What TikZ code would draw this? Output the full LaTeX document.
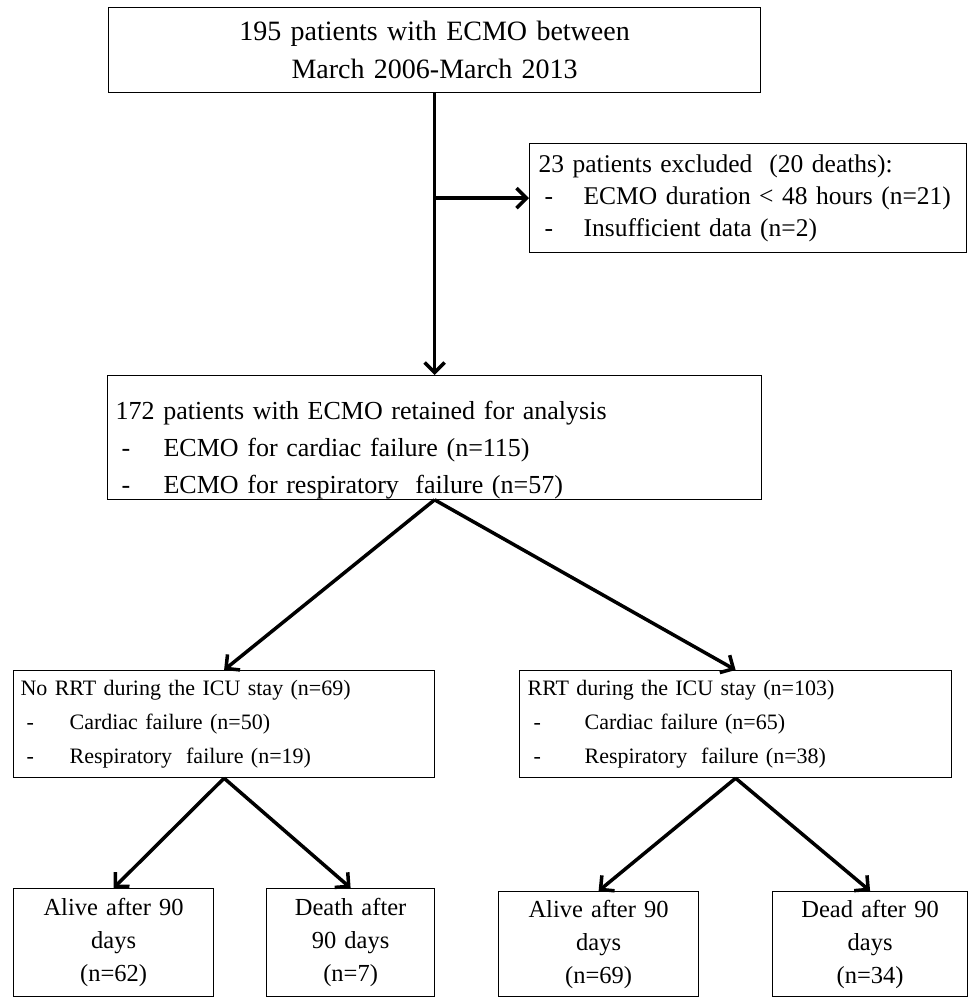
\documentclass[tikz,border=0pt]{standalone}
\usepackage{fontspec}
\setmainfont{Liberation Serif}
\usetikzlibrary{arrows.meta}
\tikzset{
    box/.style={
           draw, line width=1.2pt,
           anchor=north west,
           inner ysep=0pt,
           },
}
\tikzset{
    flow/.style={
           line width=3.5pt,
           -{Straight Barb[length=10pt,width=20pt]},
           },
}
\newcommand{\dashitem}[2][48pt]{\makebox[#1][l]{\hspace{6pt}-}#2}

\begin{document}
\begin{tikzpicture}[x=1pt,y=-1pt]
\useasboundingbox (0,0) rectangle (968,998);
\node[box,inner xsep=0pt,text width=652pt,minimum height=85pt,align=center,
      font=\fontsize{28}{38}\selectfont](0) at (108,7)
      {195 patients with ECMO between\\March 2006-March 2013};
\node[box,inner xsep=9pt,text width=419pt,minimum height=109pt,align=left,
      font=\fontsize{25.5}{32}\selectfont](1) at (529,143)
      {23 patients excluded\ \ (20 deaths):\\
       \dashitem[45pt]{ECMO duration < 48 hours (n=21)}\\
       \dashitem[45pt]{Insufficient data (n=2)}};
\node[box,inner xsep=8pt,text width=638pt,minimum height=121pt,align=left,
      font=\fontsize{26}{37}\selectfont](2) at (107,375)
      {\rule{0pt}{44pt}172 patients with ECMO retained for analysis\\
       \dashitem{ECMO for cardiac failure (n=115)}\\
       \dashitem{ECMO for respiratory\hspace{0.3em} failure (n=57)}};
\node[box,inner xsep=7pt,text width=407pt,minimum height=107pt,align=left,
      font=\fontsize{22}{34}\selectfont](3) at (13,670)
      {No RRT during the ICU stay (n=69)\\
       \dashitem[49pt]{Cardiac failure (n=50)}\\
       \dashitem[49pt]{Respiratory\hspace{0.3em} failure (n=19)}};
\node[box,inner xsep=8pt,text width=416pt,minimum height=107pt,align=left,
      font=\fontsize{22}{34}\selectfont](4) at (519,670)
      {RRT during the ICU stay (n=103)\\
       \dashitem[57pt]{Cardiac failure (n=65)}\\
       \dashitem[57pt]{Respiratory\hspace{0.3em} failure (n=38)}};
\node[box,inner xsep=0pt,text width=200pt,minimum height=108pt,align=center,
      font=\fontsize{24.5}{33}\selectfont](5) at (13,888)
      {Alive after 90\\days\\(n=62)};
\node[box,inner xsep=0pt,text width=168pt,minimum height=108pt,align=center,
      font=\fontsize{24.5}{33}\selectfont](6) at (266,888)
      {Death after\\90 days\\(n=7)};
\node[box,inner xsep=0pt,text width=200pt,minimum height=105pt,align=center,
      font=\fontsize{24.5}{33}\selectfont](7) at (498,891)
      {Alive after 90\\days\\(n=69)};
\node[box,inner xsep=0pt,text width=195pt,minimum height=105pt,align=center,
      font=\fontsize{24.5}{33}\selectfont](8) at (772,891)
      {Dead after 90\\days\\(n=34)};
\coordinate (s) at (0.south |- 1.west);
\path (0.south) edge[flow] (2.north);
\path (s) edge[flow] (1.west);
\path (2.south) edge[flow] (3.north);
\path (2.south) edge[flow] (4.north);
\path (3.south) edge[flow] (5.north);
\path (3.south) edge[flow] (6.north);
\path (4.south) edge[flow] (7.north);
\path (4.south) edge[flow] (8.north);
\end{tikzpicture}
\end{document}
